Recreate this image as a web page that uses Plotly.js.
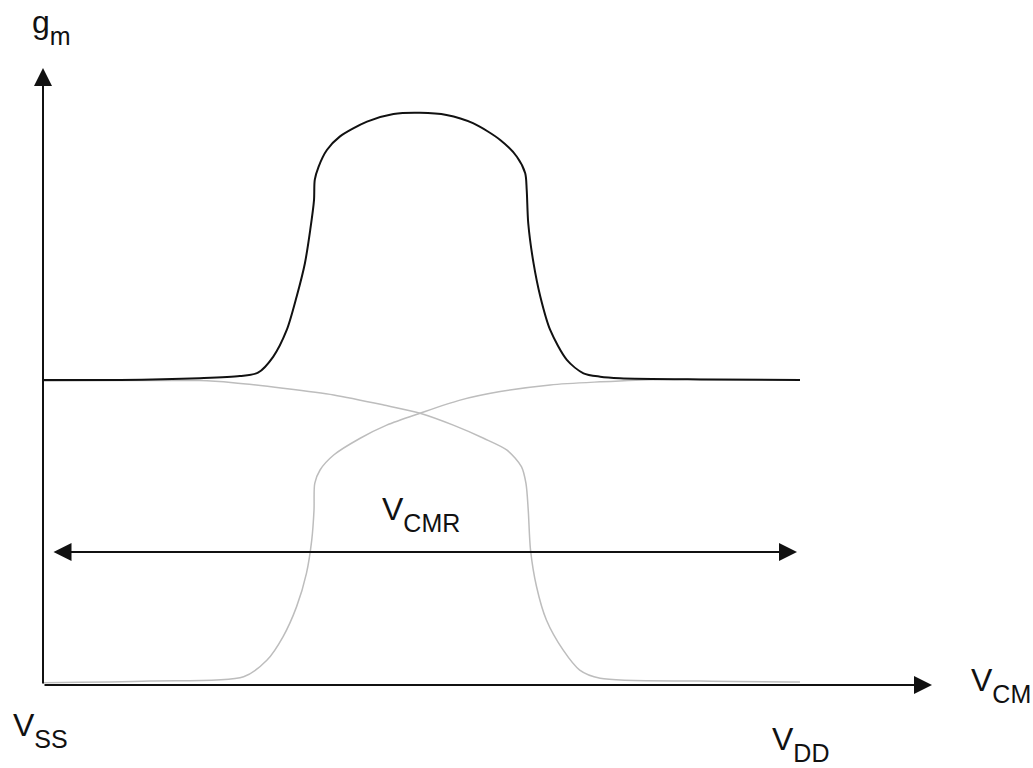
<!DOCTYPE html>
<html>
<head>
<meta charset="utf-8">
<script src="https://cdn.plot.ly/plotly-3.0.1.min.js"></script>
<style>html,body{margin:0;padding:0;background:#fff;}#chart{width:1033px;height:768px;}</style>
</head>
<body>
<div id="chart"></div>
<script>
// Common-mode voltage (VSS = 0, VDD = 10) and transconductance (one pair = 1)
const vcmTotal = [0, 1.02, 2.07, 2.60, 2.84, 3.04, 3.22, 3.35, 3.46, 3.53, 3.58, 3.59, 3.64, 3.75, 3.92, 4.28, 4.63, 4.98, 5.33, 5.68, 6.04, 6.26, 6.37, 6.39, 6.41, 6.48, 6.57, 6.70, 6.92, 7.14, 7.36, 7.62, 8.68, 10.0];
const gmTotal  = [1.00, 1.00, 1.006, 1.013, 1.024, 1.076, 1.164, 1.273, 1.383, 1.492, 1.590, 1.656, 1.699, 1.754, 1.798, 1.847, 1.872, 1.876, 1.869, 1.842, 1.787, 1.732, 1.678, 1.623, 1.514, 1.383, 1.273, 1.164, 1.066, 1.022, 1.011, 1.006, 1.002, 1.00];

const vcmP = [0, 1.02, 2.07, 2.51, 3.17, 3.84, 4.50, 4.98, 5.42, 5.82, 6.13, 6.32, 6.38, 6.41, 6.44, 6.52, 6.65, 6.87, 7.09, 7.36, 8.68, 10.0];
const gmP  = [0.997, 0.998, 0.998, 0.991, 0.973, 0.951, 0.918, 0.891, 0.852, 0.809, 0.770, 0.716, 0.661, 0.574, 0.443, 0.322, 0.213, 0.115, 0.049, 0.022, 0.013, 0.010];

const vcmN = [0, 1.41, 2.65, 2.96, 3.17, 3.35, 3.48, 3.55, 3.58, 3.59, 3.66, 3.84, 4.19, 4.54, 4.98, 5.51, 6.04, 6.70, 7.36, 8.15, 10.0];
const gmN  = [0.007, 0.013, 0.027, 0.082, 0.158, 0.257, 0.366, 0.475, 0.574, 0.661, 0.705, 0.754, 0.809, 0.852, 0.891, 0.934, 0.962, 0.984, 0.994, 1.002, 1.00];

const SUB = 'font-size:25px;baseline-shift:-5px';
const labels = {gm: 'g<sub><span style="' + SUB + '">m</span></sub>',
                vcm: 'V<sub><span style="' + SUB + '">CM</span></sub>',
                vss: 'V<sub><span style="' + SUB + '">SS</span></sub>',
                vdd: 'V<sub><span style="' + SUB + '">DD</span></sub>',
                vcmr: 'V<sub><span style="' + SUB + '">CMR</span></sub>'};

// pixel helpers for layout positions only
const L = 43, R = 933, T = 60, B = 685, PXX = 75.7, PXY = 305;
const fx = p => (p - L) / PXX;
const fy = p => (B - p) / PXY;
const px = p => (p - L) / (R - L);
const py = p => (B - p) / (B - T);

const grey = '#bdbdbd';
const traces = [
  {x: vcmP, y: gmP, mode: 'lines', line: {color: grey, width: 1.5, shape: 'spline', smoothing: 0.8}, hoverinfo: 'skip'},
  {x: vcmN, y: gmN, mode: 'lines', line: {color: grey, width: 1.5, shape: 'spline', smoothing: 0.8}, hoverinfo: 'skip'},
  {x: vcmTotal, y: gmTotal, mode: 'lines', line: {color: '#111', width: 2, shape: 'spline', smoothing: 0.8}, hoverinfo: 'skip'}
];

const arrowBase = {xref: 'x', yref: 'y', axref: 'x', ayref: 'y', text: '', showarrow: true,
  arrowhead: 2, arrowsize: 1.8, arrowwidth: 2, arrowcolor: '#111', standoff: 0};
const font = {family: 'Liberation Sans, Arial, sans-serif', size: 32, color: '#111'};
const txt = (t, x, y) => ({xref: 'paper', yref: 'paper', x: px(x), y: py(y), xanchor: 'left', yanchor: 'top',
  text: t, showarrow: false, font: font});

const layout = {
  width: 1033, height: 768, autosize: false,
  margin: {l: L, r: 1033 - R, t: T, b: 768 - B, pad: 0},
  paper_bgcolor: '#fff', plot_bgcolor: '#fff',
  showlegend: false,
  xaxis: {range: [0, (R - L) / PXX], showgrid: false, zeroline: false, showticklabels: false, showline: false, ticks: '', fixedrange: true},
  yaxis: {range: [0, (B - T) / PXY], showgrid: false, zeroline: false, showticklabels: false, showline: false, ticks: '', fixedrange: true},
  annotations: [
    Object.assign({}, arrowBase, {x: 0, y: fy(68), ax: 0, ay: 0}),
    Object.assign({}, arrowBase, {x: fx(932), y: 0, ax: 0, ay: 0}),
    Object.assign({}, arrowBase, {x: fx(797), y: fy(552), ax: fx(52), ay: fy(552), arrowside: 'end+start', startarrowhead: 2, startarrowsize: 1.8}),
    txt(labels.gm, 30, 2),
    txt(labels.vcm, 969, 660),
    txt(labels.vss, 11, 705),
    txt(labels.vdd, 770, 719),
    txt(labels.vcmr, 380, 489)
  ]
};

Plotly.newPlot('chart', traces, layout, {displayModeBar: false, staticPlot: true});
</script>
</body>
</html>
